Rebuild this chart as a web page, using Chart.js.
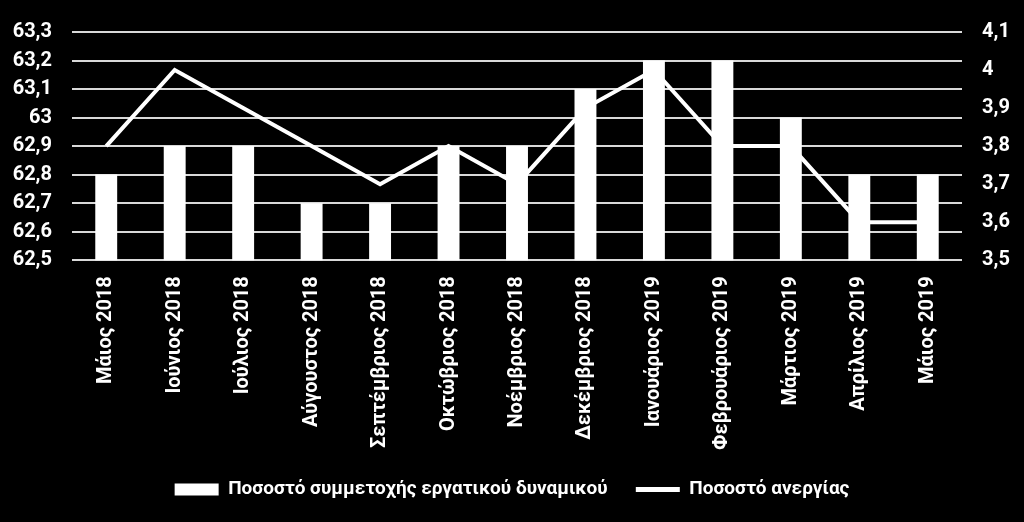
<!DOCTYPE html>
<html><head><meta charset="utf-8">
<script src="https://cdn.jsdelivr.net/npm/chart.js@4"></script>
<style>html,body{margin:0;padding:0;background:#000;}#w{width:1024px;height:522px;}</style>
</head><body><div id="w"><canvas id="c" width="1024" height="522"></canvas></div>
<script>
const categories = ["Μάιος 2018","Ιούνιος 2018","Ιούλιος 2018","Αύγουστος 2018","Σεπτέμβριος 2018","Οκτώβριος 2018","Νοέμβριος 2018","Δεκέμβριος 2018","Ιανουάριος 2019","Φεβρουάριος 2019","Μάρτιος 2019","Απρίλιος 2019","Μάιος 2019"];
const participationRate = [62.8,62.9,62.9,62.7,62.7,62.9,62.9,63.1,63.2,63.2,63.0,62.8,62.8];
const unemploymentRate = [3.8,4.0,3.9,3.8,3.7,3.8,3.7,3.9,4.0,3.8,3.8,3.6,3.6];
const seriesNames = ["Ποσοστό συμμετοχής εργατικού δυναμικού","Ποσοστό ανεργίας"];

const FONT = "Roboto";
const fmt = v => String(Math.round(v*10)/10).replace('.', ',');

new Chart(document.getElementById('c'), {
  data: {
    labels: categories,
    datasets: [
      {type:'bar', label: seriesNames[0], data: participationRate, yAxisID:'y',
       backgroundColor:'#fff', borderWidth:0, barPercentage:0.32, categoryPercentage:1, order:0},
      {type:'line', label: seriesNames[1], data: unemploymentRate, yAxisID:'y1',
       borderColor:'#fff', backgroundColor:'#fff', borderWidth:4, pointRadius:0, tension:0, order:1}
    ]
  },
  options: {
    responsive:false, animation:false,
    layout:{padding:{left:0,right:0,top:9,bottom:13}},
    plugins:{
      legend:{position:'bottom',
        labels:{color:'#fff', font:{family:FONT, size:19, weight:'bold'}, usePointStyle:true, pointStyleWidth:44, boxHeight:12, padding:14,
          sort:(a,b)=>a.datasetIndex-b.datasetIndex,
          generateLabels:(chart)=>{
            const items = Chart.defaults.plugins.legend.labels.generateLabels(chart);
            items.forEach(it=>{
              if(it.datasetIndex===1){ it.pointStyle='line'; it.lineWidth=5; it.strokeStyle='#fff'; }
              else { it.pointStyle='rect'; it.lineWidth=0; it.fillStyle='#fff'; }
              it.text = it.text + (it.datasetIndex===0 ? '   ' : '');
            });
            return items;
          }},
      },
      tooltip:{enabled:false}
    },
    scales:{
      x:{grid:{display:false, drawTicks:false}, border:{display:false},
         ticks:{color:'#fff', font:{family:FONT,size:20,weight:'bold'}, maxRotation:90, minRotation:90, padding:16}},
      y:{position:'left', min:62.5, max:63.3, afterFit:s=>{s.width=72;},
         grid:{color:'#d9d9d9', lineWidth:2, drawTicks:false}, border:{display:false},
         ticks:{stepSize:0.1, color:'#fff', font:{family:FONT,size:20,weight:'bold'}, padding:20, callback:fmt}},
      y1:{position:'right', min:3.5, max:4.1, afterFit:s=>{s.width=62;},
         grid:{display:false, drawTicks:false}, border:{display:false},
         ticks:{stepSize:0.1, color:'#fff', font:{family:FONT,size:20,weight:'bold'}, padding:20, callback:fmt}}
    }
  }
});
</script></body></html>
